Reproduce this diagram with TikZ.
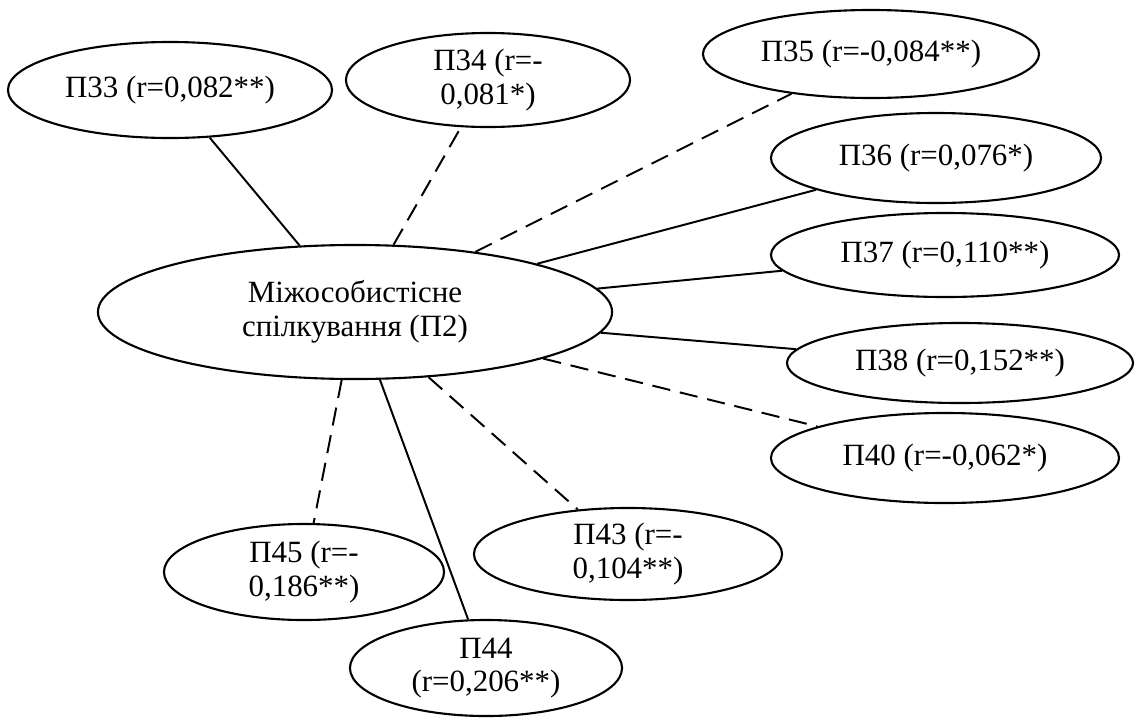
\documentclass[tikz,border=0pt]{standalone}
\usepackage{fontspec}
\setmainfont{Liberation Serif}
\usetikzlibrary{shapes.geometric}
\tikzset{
  oval/.style={draw, ellipse, line width=1.5pt, inner sep=0pt, align=center,
    font=\fontsize{22}{24}\selectfont},
  link/.style={line width=1.4pt},
  weak/.style={link, dash pattern=on 13pt off 7pt},
}

\begin{document}
\begin{tikzpicture}[x=0.025cm, y=-0.025cm]
  \useasboundingbox (0,0) rectangle (1135,718);
  % central factor
  \node[oval, minimum width=12.85cm, minimum height=3.35cm] (main) at (355,312) {Міжособистісне\\спілкування (П2)};
  % correlated items
  \node[oval, minimum width=8.1cm, minimum height=2.4cm] (p33) at (170,90) {П33 (r=0,082**)};
  \node[oval, minimum width=7.1cm, minimum height=2.35cm] (p34) at (488,80) {П34 (r=-\\0,081*)};
  \node[oval, minimum width=8.4cm, minimum height=2.2cm] (p35) at (871,54) {П35 (r=-0,084**)};
  \node[oval, minimum width=8.25cm, minimum height=2.25cm] (p36) at (936,158) {П36 (r=0,076*)};
  \node[oval, minimum width=8.7cm, minimum height=2.1cm] (p37) at (945,255) {П37 (r=0,110**)};
  \node[oval, minimum width=8.65cm, minimum height=2.0cm] (p38) at (960,363) {П38 (r=0,152**)};
  \node[oval, minimum width=8.7cm, minimum height=2.25cm] (p40) at (945,458) {П40 (r=-0,062*)};
  \node[oval, minimum width=7.7cm, minimum height=2.3cm] (p43) at (628,554) {П43 (r=-\\0,104**)};
  \node[oval, minimum width=7.0cm, minimum height=2.4cm] (p45) at (304,572) {П45 (r=-\\0,186**)};
  \node[oval, minimum width=6.8cm, minimum height=2.4cm] (p44) at (486,668) {П44\\(r=0,206**)};
  % links: solid positive, dashed negative
  \draw[link] (main) -- (p33);
  \draw[weak] (main) -- (p34);
  \draw[weak] (main) -- (p35);
  \draw[link] (main) -- (p36);
  \draw[link] (main) -- (p37);
  \draw[link] (main) -- (p38);
  \draw[weak] (main) -- (p40);
  \draw[weak] (main) -- (p43);
  \draw[link] (main) -- (p44);
  \draw[weak] (main) -- (p45);
\end{tikzpicture}
\end{document}
